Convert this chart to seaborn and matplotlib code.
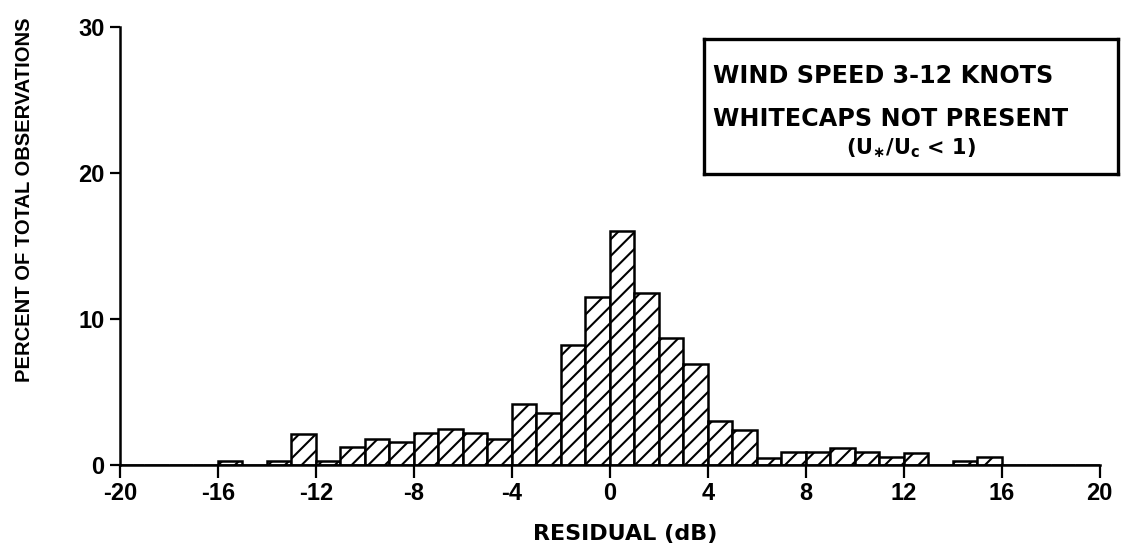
import numpy as np
import pandas as pd
import matplotlib
matplotlib.use("Agg")
import matplotlib.pyplot as plt
import seaborn as sns

# 1 dB bins from -20 to 20, percent of total observations per bin
bin_edges = np.arange(-20, 21, 1)
percent = [0, 0, 0, 0, 0.25, 0, 0.3, 2.15, 0.3, 1.25,
           1.8, 1.6, 2.2, 2.45, 2.2, 1.8, 4.2, 3.55, 8.2, 11.5,
           16.0, 11.8, 8.7, 6.9, 3.0, 2.4, 0.5, 0.9, 0.9, 1.2,
           0.9, 0.55, 0.85, 0, 0.3, 0.55, 0, 0, 0, 0]
bin_centers = bin_edges[:-1] + 0.5
x_ticks = [-20, -16, -12, -8, -4, 0, 4, 8, 12, 16, 20]
y_ticks = [0, 10, 20, 30]

df = pd.DataFrame({'residual': bin_centers, 'percent': percent})

sns.set_style("ticks")
plt.rcParams['font.family'] = ['Liberation Sans', 'DejaVu Sans']
plt.rcParams['font.weight'] = 'bold'
plt.rcParams['axes.unicode_minus'] = False
plt.rcParams['text.color'] = 'black'
plt.rcParams['axes.labelcolor'] = 'black'
plt.rcParams['xtick.color'] = 'black'
plt.rcParams['ytick.color'] = 'black'
plt.rcParams['axes.edgecolor'] = 'black'
plt.rcParams['mathtext.fontset'] = 'custom'
plt.rcParams['mathtext.rm'] = 'DejaVu Sans:bold'
plt.rcParams['mathtext.it'] = 'DejaVu Sans:bold'
plt.rcParams['mathtext.bf'] = 'DejaVu Sans:bold'
plt.rcParams['hatch.linewidth'] = 1.5

wide = ['DejaVu Sans']
narrow = ['Liberation Sans']

fig = plt.figure(figsize=(11.21, 5.54), dpi=100)
ax = fig.add_axes([0.107, 0.1606, 0.874, 0.7904])

sns.histplot(data=df, x='residual', weights='percent',
             bins=len(bin_edges) - 1,
             binrange=(float(bin_edges[0]), float(bin_edges[-1])), ax=ax,
             color='white', edgecolor='black', linewidth=1.8, alpha=1)
for patch in ax.patches:
    patch.set_hatch('//')

ax.set_xlim(-20, 20)
ax.set_ylim(0, 30)
ax.set_xticks(x_ticks)
ax.set_yticks(y_ticks)
ax.tick_params(axis='both', labelsize=17, width=1.6)
ax.tick_params(axis='x', length=9, pad=3)
ax.tick_params(axis='y', length=7, pad=4)
for lbl in ax.get_xticklabels() + ax.get_yticklabels():
    lbl.set_fontweight('bold')
sns.despine(ax=ax)
ax.spines['left'].set_linewidth(1.8)
ax.spines['bottom'].set_linewidth(1.8)

ax.set_xlabel('RESIDUAL (dB)', fontsize=16, fontweight='bold',
              family=wide, va='center')
ax.xaxis.set_label_coords(0.516, -0.1575)
ax.set_ylabel('PERCENT OF TOTAL OBSERVATIONS', fontsize=14.5,
              fontweight='bold', family=narrow, va='center')
ax.yaxis.set_label_coords(-0.097, 0.605)

# annotation box
box_ax = fig.add_axes([0.628, 0.686, 0.369, 0.2437])
box_ax.set_xticks([])
box_ax.set_yticks([])
for s in box_ax.spines.values():
    s.set_linewidth(2.4)
box_ax.text(0.022, 0.726, 'WIND SPEED 3-12 KNOTS', fontsize=17.2,
            fontweight='bold', family=wide, va='center', ha='left')
box_ax.text(0.022, 0.41, 'WHITECAPS NOT PRESENT', fontsize=17.2,
            fontweight='bold', family=wide, va='center', ha='left')
box_ax.text(0.5, 0.19, r'(U$_{\ast}$/U$_{c}$ < 1)', fontsize=15,
            fontweight='bold', family=wide, va='center', ha='center')

fig.savefig('out.png', dpi=100)
